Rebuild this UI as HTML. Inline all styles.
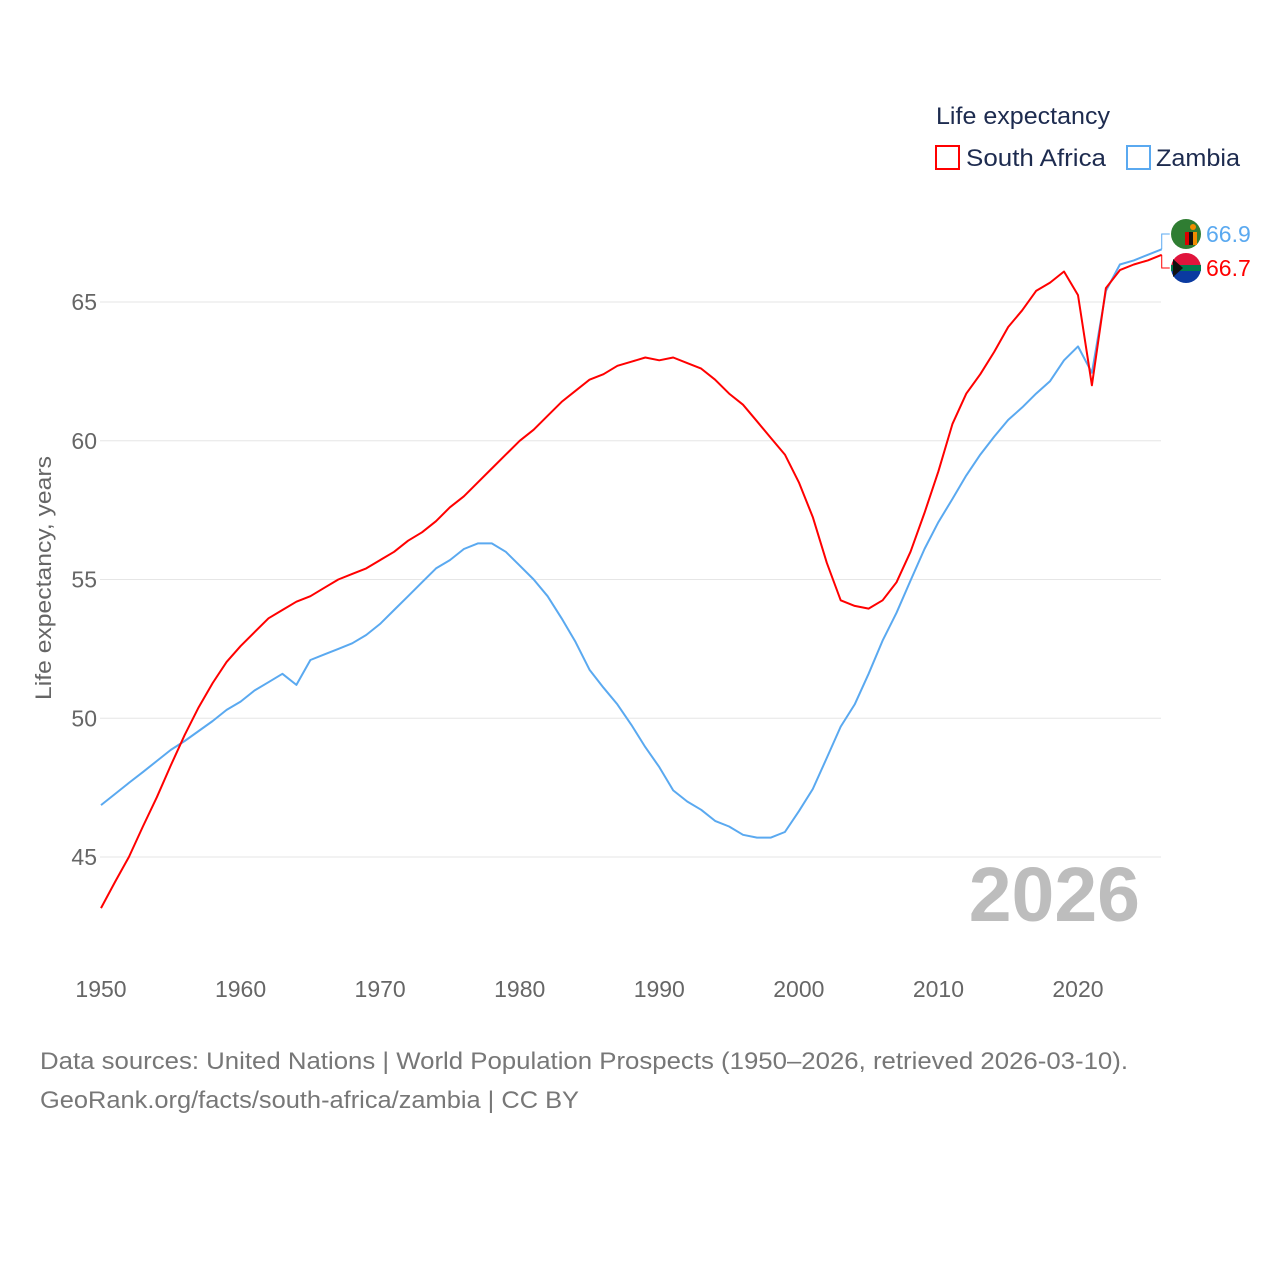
<!DOCTYPE html>
<html><head><meta charset="utf-8">
<style>
html,body{margin:0;padding:0;background:#fff;}
body{width:1280px;height:1280px;overflow:hidden;font-family:"Liberation Sans",sans-serif;}
svg text{font-family:"Liberation Sans",sans-serif;}
</style></head>
<body>
<svg id="chart" width="1280" height="1280">
  <g id="grid"></g>
  <g id="yticks"></g>
  <g id="xticks"></g>
  <text transform="translate(51,578) rotate(-90)" text-anchor="middle" font-size="22" fill="#666" textLength="244" lengthAdjust="spacingAndGlyphs">Life expectancy, years</text>
  <text x="1140" y="921" text-anchor="end" font-size="77" font-weight="bold" fill="#bdbdbd">2026</text>
  <g id="series"></g>
  <g>
    <text x="936" y="124" font-size="24" fill="#1d2b4f" textLength="174" lengthAdjust="spacingAndGlyphs">Life expectancy</text>
    <rect x="936" y="146" width="23" height="23" fill="none" stroke="#f00" stroke-width="2"/>
    <text x="966" y="166" font-size="24" fill="#1d2b4f" textLength="140" lengthAdjust="spacingAndGlyphs">South Africa</text>
    <rect x="1127" y="146" width="23" height="23" fill="none" stroke="#5aa9f0" stroke-width="2"/>
    <text x="1156" y="166" font-size="24" fill="#1d2b4f" textLength="84" lengthAdjust="spacingAndGlyphs">Zambia</text>
  </g>
  <g id="endlabels"></g>
  <text x="40" y="1069" font-size="24" fill="#777" textLength="1088" lengthAdjust="spacingAndGlyphs">Data sources: United Nations | World Population Prospects (1950–2026, retrieved 2026-03-10).</text>
  <text x="40" y="1108" font-size="24" fill="#777" textLength="539" lengthAdjust="spacingAndGlyphs">GeoRank.org/facts/south-africa/zambia | CC BY</text>
</svg>
<script>
const startYear = 1950;
const xTicks = [1950,1960,1970,1980,1990,2000,2010,2020];
const yTicks = [45,50,55,60,65];
const southAfrica = [43.16,44.1,45.0,46.1,47.15,48.3,49.4,50.4,51.27,52.03,52.6,53.1,53.6,53.9,54.2,54.4,54.7,55.0,55.2,55.4,55.7,56.0,56.4,56.7,57.1,57.6,58.0,58.5,59.0,59.5,60.0,60.4,60.9,61.4,61.8,62.2,62.4,62.7,62.85,63.0,62.9,63.0,62.8,62.6,62.2,61.7,61.3,60.7,60.1,59.5,58.5,57.25,55.6,54.25,54.05,53.95,54.25,54.9,56.0,57.4,58.9,60.6,61.7,62.4,63.2,64.1,64.7,65.4,65.7,66.1,65.25,62.0,65.5,66.15,66.35,66.5,66.7];
const zambia = [46.87,47.27,47.67,48.06,48.46,48.86,49.18,49.54,49.9,50.3,50.6,51.0,51.3,51.6,51.2,52.1,52.3,52.5,52.7,53.0,53.4,53.9,54.4,54.9,55.4,55.7,56.1,56.3,56.3,56.0,55.5,55.0,54.4,53.6,52.75,51.75,51.1,50.5,49.76,48.96,48.24,47.4,47.0,46.7,46.3,46.1,45.8,45.7,45.7,45.9,46.65,47.45,48.57,49.7,50.5,51.6,52.8,53.8,54.96,56.1,57.07,57.9,58.75,59.5,60.15,60.75,61.2,61.7,62.15,62.9,63.4,62.45,65.4,66.35,66.5,66.7,66.9];

const NS = "http://www.w3.org/2000/svg";
const X = yr => 101 + (yr - 1950) * 13.957;
const Y = v => 857 - (v - 45) * 27.75;
function mk(tag, attrs, parent){const e=document.createElementNS(NS,tag);for(const k in attrs)e.setAttribute(k,attrs[k]);parent.appendChild(e);return e;}

const grid=document.getElementById('grid'), yt=document.getElementById('yticks'), xt=document.getElementById('xticks');
yTicks.forEach(v=>{
  const l=mk('line',{x1:100,x2:1161,y1:Y(v),y2:Y(v),stroke:'#e6e6e6','stroke-width':1},grid);
  
  
  const t=mk('text',{x:97,y:Y(v)+8,'text-anchor':'end','font-size':23,fill:'#666'},yt);
  t.textContent=v;
  
  
});
xTicks.forEach(yr=>{
  const t=mk('text',{x:X(yr),y:997,'text-anchor':'middle','font-size':23,fill:'#666'},xt);
  t.textContent=yr;
  
  
});
const ser=document.getElementById('series');
function line(data,color,name){
  const d=data.map((v,i)=>(i?'L':'M')+X(startYear+i).toFixed(1)+','+Y(v).toFixed(1)).join(' ');
  const p=mk('path',{d:d,fill:'none',stroke:color,'stroke-width':2,'stroke-linejoin':'round'},ser);
  
  
}
line(zambia,'#5aa9f0','line-zambia');
line(southAfrica,'#f00','line-south-africa');

const el=document.getElementById('endlabels');
const lastYr=startYear+zambia.length-1;
const xe=X(lastYr);
function endLabel(val,color,ly,name,flag){
  const c=mk('path',{d:`M${xe},${Y(val)} L${xe},${ly} L${xe+8},${ly}`,fill:'none',stroke:color,'stroke-width':1},el);
  
  
  const g=mk('g',{},el);
  
  
  if(flag==='zm'){
    mk('circle',{cx:1186,cy:ly,r:15,fill:'#2f7d32'},g);
    mk('rect',{x:1185,y:ly-2,width:4,height:13,fill:'#d00'},g);
    mk('rect',{x:1189,y:ly-2,width:4,height:13,fill:'#111'},g);
    mk('rect',{x:1193,y:ly-2,width:4,height:13,fill:'#f08c00'},g);
    mk('circle',{cx:1193,cy:ly-7,r:3,fill:'#f08c00'},g);
  } else {
    mk('circle',{cx:1186,cy:ly,r:15,fill:'#fff'},g);
    mk('path',{d:`M1171,${ly} A15,15 0 0 1 1201,${ly} Z`,fill:'#e0143c'},g);
    mk('path',{d:`M1171,${ly} A15,15 0 0 0 1201,${ly} Z`,fill:'#0a3aa0'},g);
    mk('rect',{x:1171,y:ly-3,width:30,height:6,fill:'#007a4d'},g);
    mk('path',{d:`M1173,${ly-9} L1183,${ly} L1173,${ly+9} Z`,fill:'#111'},g);
  }
  const t=mk('text',{x:1206,y:ly+8,'font-size':23,fill:color},el);
  t.textContent=val.toFixed(1);
  
  
}
endLabel(zambia[zambia.length-1],'#5aa9f0',234,'zambia-end','zm');
endLabel(southAfrica[southAfrica.length-1],'#f00',268,'south-africa-end','za');
</script>
</body></html>
